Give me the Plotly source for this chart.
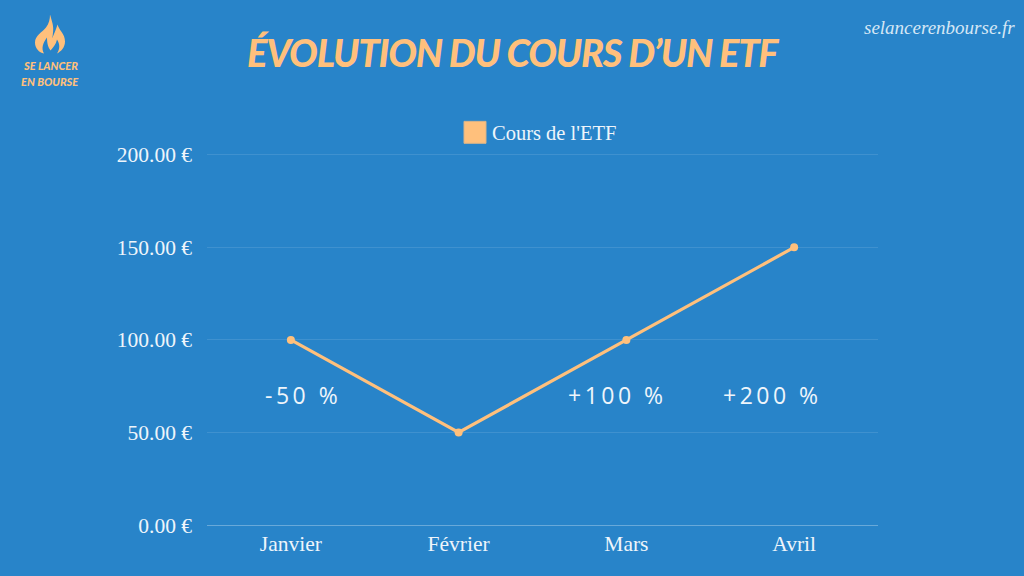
import plotly.graph_objects as go

# Monthly closing price of the fund
months = ["Janvier", "Février", "Mars", "Avril"]
prices = [100, 50, 100, 150]
y_ticks = [0, 50, 100, 150, 200]
y_tick_labels = ["0.00 €", "50.00 €", "100.00 €", "150.00 €", "200.00 €"]

# Percentage notes placed under the curve (category position, price level, text)
note_x = [0.07, 1.95, 2.87]
note_y = [70, 70, 70]
note_text = ["-50 %", "+100 %", "+200 %"]

BLUE = "#2884C9"
ORANGE = "#FFC07C"
PALE = "#EEF5FB"
SERIF = "Liberation Serif"

W, H = 1024, 576
# The small headroom above 200 keeps the top gridline on the axis range
HEADROOM = 1.5
Y_MAX = 200 + HEADROOM
L, R, T, B = 207, 146, 154.5 - HEADROOM * 371 / 200, 50.5


def px(x, y):
    """Convert page pixels to paper coordinates."""
    return (x - L) / (W - L - R), 1 - (y - T) / (H - T - B)


def path(cmds):
    out = []
    for c in cmds:
        pts = c[1:]
        conv = [px(pts[i], pts[i + 1]) for i in range(0, len(pts), 2)]
        out.append(c[0] + " ".join(f"{a:.5f},{b:.5f}" for a, b in conv))
    return " ".join(out) + " Z"


flame = path([
    ("M", 50, 14),
    ("C", 52, 21, 54, 26, 53, 32),
    ("C", 53, 34, 52.5, 36, 52, 38),
    ("C", 54, 34, 56, 29, 57.5, 24),
    ("C", 59, 30, 65, 33, 65, 41),
    ("C", 65, 47, 61, 51, 57, 53),
    ("C", 60, 48, 60, 44, 57, 39),
    ("C", 56, 44, 53, 47, 50.5, 50),
    ("C", 48.5, 47, 47, 44, 47, 37),
    ("C", 43, 42, 41, 48, 44, 53),
    ("C", 39, 52, 35, 48, 35, 42),
    ("C", 35, 35, 42, 32, 46, 27),
    ("C", 49, 23, 50, 19, 50, 14),
])

fig = go.Figure()
fig.add_trace(go.Scatter(
    x=months, y=prices, mode="lines+markers", name="Cours de l'ETF",
    line=dict(color=ORANGE, width=3.2),
    marker=dict(color=ORANGE, size=8),
    showlegend=False, hoverinfo="x+y",
))

annotations = [
    dict(x=x, y=y, xref="x", yref="y", text=f'<span style="letter-spacing:3.5px">{t}</span>',
         showarrow=False, font=dict(family="Open Sans", size=23, color=PALE))
    for x, y, t in zip(note_x, note_y, note_text)
]


def page_text(x, y, text, font, anchor="center"):
    px_x, px_y = px(x, y)
    annotations.append(dict(x=px_x, y=px_y, xref="paper", yref="paper", text=text,
                            showarrow=False, xanchor=anchor, yanchor="middle",
                            font=font))


heading_font = dict(family="Lato", color=ORANGE, weight=900, style="italic")
page_text(513, 52, '<span style="letter-spacing:-1.2px">ÉVOLUTION DU COURS D’UN ETF</span>',
          dict(heading_font, size=38))
page_text(50, 65, "SE LANCER", dict(heading_font, size=11))
page_text(50, 81, "EN BOURSE", dict(heading_font, size=11))
page_text(1017, 27, "selancerenbourse.fr",
          dict(family=SERIF, size=19, color="#D5E7F5", style="italic"), "right")
page_text(490, 133, "Cours de l'ETF", dict(family=SERIF, size=20.5, color=PALE), "left")

x0, y0 = px(464, 143)
x1, y1 = px(486, 121)
shapes = [
    dict(type="path", path=flame, xref="paper", yref="paper",
         fillcolor=ORANGE, line=dict(width=0)),
    dict(type="rect", x0=x0, y0=y0, x1=x1, y1=y1, xref="paper", yref="paper",
         fillcolor=ORANGE, line=dict(width=1, color="#D8B48A")),
]

fig.update_layout(
    width=W, height=H, autosize=False,
    margin=dict(l=L, r=R, t=T, b=B),
    paper_bgcolor=BLUE, plot_bgcolor=BLUE,
    annotations=annotations, shapes=shapes,
    showlegend=False,
    xaxis=dict(
        type="category", range=[-0.5, 3.5], showgrid=False, zeroline=False,
        showline=False, ticks="", ticklen=0, ticklabelstandoff=3,
        tickfont=dict(family=SERIF, size=21.5, color=PALE),
    ),
    yaxis=dict(
        range=[0, Y_MAX], tickvals=y_ticks, ticktext=y_tick_labels,
        showgrid=True, gridcolor="rgba(255,255,255,0.11)", gridwidth=1.2,
        zeroline=True, zerolinecolor="rgba(255,255,255,0.3)", zerolinewidth=1.2,
        showline=False, ticks="", ticklen=0, ticklabelstandoff=14,
        tickfont=dict(family=SERIF, size=21.5, color=PALE),
    ),
)

fig.write_html("out.html")
